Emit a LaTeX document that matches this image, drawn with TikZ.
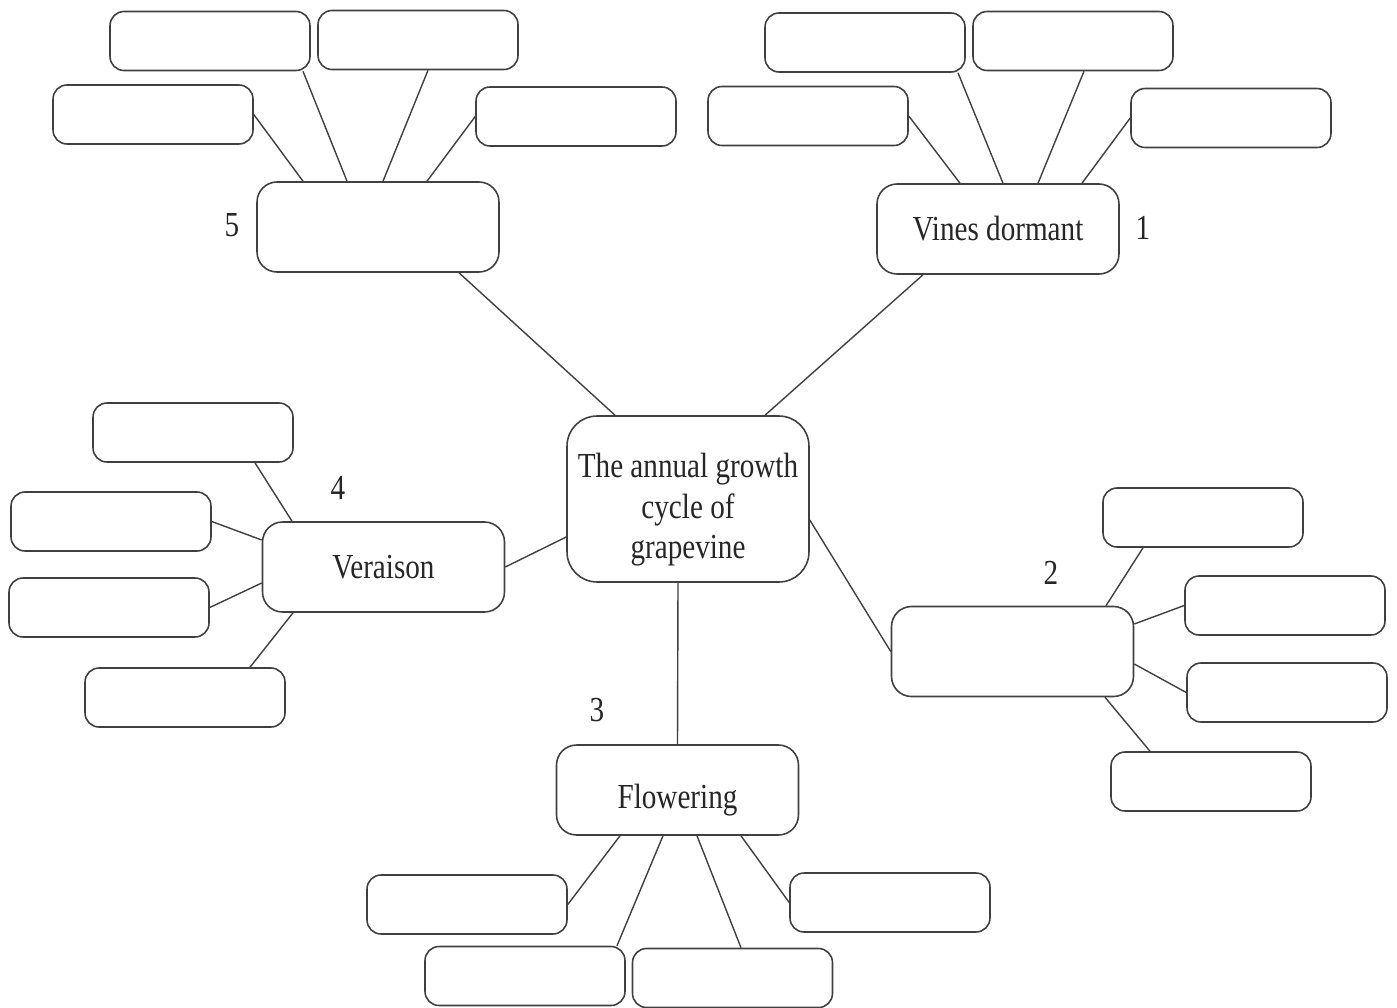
\documentclass[tikz,border=0pt]{standalone}
\usepackage{fontspec}
\newfontfamily\cyclefont[FakeStretch=0.83]{Liberation Serif}
\usetikzlibrary{positioning}

\tikzset{
  box/.style={draw=black!75, line width=0.9pt, rounded corners=0.28cm, minimum width=4cm, minimum height=1.18cm, inner sep=0pt},
  stage/.style={box, rounded corners=0.4cm, minimum width=4.84cm, minimum height=1.8cm, font=\cyclefont\fontsize{20}{23}\selectfont, text=black!85},
  hub/.style={stage, rounded corners=0.6cm, minimum height=3.32cm},
  num/.style={font=\cyclefont\fontsize{20}{23}\selectfont, text=black!85},
  link/.style={draw=black!75, line width=0.8pt}
}

\begin{document}
\begin{tikzpicture}[x=0.02cm, y=-0.02cm]
  \useasboundingbox (0,0) rectangle (1397,1008);

  % centre
  \node[hub] (cycle) at (688,499) {};
  \node[num, align=center] (cycletext) at ([yshift=-0.22cm]cycle.center) {The annual growth\\cycle of\\grapevine};

  % stages
  \node[stage] (dormant) at (998,229) {Vines dormant};
  \node[stage] (stagetwo) at (1012.5,651.5) {};
  \node[stage] (flowering) at (677.5,790) {};
  \node[num] (flowertext) at ([yshift=-0.2cm]flowering.center) {Flowering};
  \node[stage] (veraison) at (383.5,567) {Veraison};
  \node[stage] (stagefive) at (378,227) {};

  \node[num] (n1) at (1143,228) {1};
  \node[num] (n2) at (1051,573) {2};
  \node[num] (n3) at (597,710) {3};
  \node[num] (n4) at (338,488) {4};
  \node[num] (n5) at (232,225) {5};

  % empty boxes
  \node[box] (b1) at (865,42.5) {};
  \node[box] (b2) at (1073,41) {};
  \node[box] (b3) at (808,116) {};
  \node[box] (b4) at (1231,118) {};

  \node[box] (d1) at (1203,517.5) {};
  \node[box] (d2) at (1285,605.5) {};
  \node[box] (d3) at (1287,692.5) {};
  \node[box] (d4) at (1211,781.5) {};

  \node[box] (e1) at (467,904.5) {};
  \node[box] (e2) at (525,976) {};
  \node[box] (e3) at (732.5,978) {};
  \node[box] (e4) at (890,902.5) {};

  \node[box] (c1) at (193,432.5) {};
  \node[box] (c2) at (111,521.5) {};
  \node[box] (c3) at (109,607.5) {};
  \node[box] (c4) at (185,697.5) {};

  \node[box] (a1) at (210,41) {};
  \node[box] (a2) at (418,40) {};
  \node[box] (a3) at (153,114.5) {};
  \node[box] (a4) at (576,116.5) {};

  % spokes
  \draw[link] ([xshift=1.54cm]cycle.north) -- ([xshift=-1.5cm]dormant.south);
  \draw[link] ([yshift=-0.42cm]cycle.east) -- (stagetwo.west);
  \draw[link] ([xshift=-0.2cm]cycle.south) -- (flowering.north);
  \draw[link] ([yshift=-0.76cm]cycle.west) -- (veraison.east);
  \draw[link] ([xshift=-1.46cm]cycle.north) -- ([xshift=1.62cm]stagefive.south);

  \draw[link] (b3.east) -- ([xshift=-0.76cm]dormant.north);
  \draw[link] ([xshift=1.86cm]b1.south) -- ([xshift=0.1cm]dormant.north);
  \draw[link] ([xshift=0.22cm]b2.south) -- ([xshift=0.8cm]dormant.north);
  \draw[link] (b4.west) -- ([xshift=1.68cm]dormant.north);

  \draw[link] ([xshift=-1.2cm]d1.south) -- ([xshift=1.87cm]stagetwo.north);
  \draw[link] (d2.west) -- ([yshift=0.55cm]stagetwo.east);
  \draw[link] (d3.west) -- ([yshift=-0.25cm]stagetwo.east);
  \draw[link] ([xshift=-1.22cm]d4.north) -- ([xshift=1.85cm]stagetwo.south);

  \draw[link] (e1.east) -- ([xshift=-1.15cm]flowering.south);
  \draw[link] ([xshift=1.84cm]e2.north) -- ([xshift=-0.29cm]flowering.south);
  \draw[link] ([xshift=0.17cm]e3.north) -- ([xshift=0.39cm]flowering.south);
  \draw[link] (e4.west) -- ([xshift=1.27cm]flowering.south);

  \draw[link] ([xshift=1.24cm]c1.south) -- ([xshift=-1.83cm]veraison.north);
  \draw[link] (c2.east) -- ([yshift=0.54cm]veraison.west);
  \draw[link] (c3.east) -- ([yshift=-0.32cm]veraison.west);
  \draw[link] ([xshift=1.3cm]c4.north) -- ([xshift=-1.81cm]veraison.south);

  \draw[link] (a3.east) -- ([xshift=-1.5cm]stagefive.north);
  \draw[link] ([xshift=1.86cm]a1.south) -- ([xshift=-0.62cm]stagefive.north);
  \draw[link] ([xshift=0.2cm]a2.south) -- ([xshift=0.1cm]stagefive.north);
  \draw[link] (a4.west) -- ([xshift=0.98cm]stagefive.north);
\end{tikzpicture}
\end{document}
